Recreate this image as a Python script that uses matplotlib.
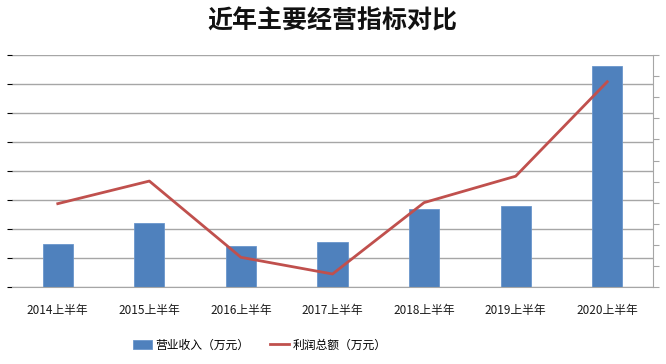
import matplotlib.pyplot as plt
import numpy as np

plt.rcParams['font.family'] = ['Noto Sans CJK SC', 'DejaVu Sans']

# 数据（从图中估读，单位：万元）
periods = ['2014上半年', '2015上半年', '2016上半年', '2017上半年',
           '2018上半年', '2019上半年', '2020上半年']
revenue = [7400, 11100, 7050, 7850, 13450, 13950, 38100]   # 营业收入
profit = [1980, 2515, 710, 315, 2005, 2630, 4865]          # 利润总额

bar_color = '#4F81BD'
line_color = '#C0504D'
grid_color = '#A6A6A6'

fig = plt.figure(figsize=(6.66, 3.64), dpi=100)
ax = fig.add_axes([0.018, 0.2107, 0.9625, 0.6383])

x = np.arange(len(periods))
bars = ax.bar(x, revenue, width=0.33, color=bar_color, edgecolor='#6A96CC',
              linewidth=0.6, zorder=2, label='营业收入（万元）')
ax.set_xlim(-0.5, len(periods) - 0.5)
ax.set_ylim(0, 40000)
ax.set_yticks(np.arange(0, 40001, 5000))
ax.yaxis.grid(True, color=grid_color, linewidth=1.0, zorder=0)
ax.tick_params(axis='y', left=False, labelleft=False)
ax.tick_params(axis='x', length=0, pad=12, labelsize=8.5, labelcolor='#1a1a1a')
ax.set_xticks(x)
ax.set_xticklabels(periods)
for s in ['left', 'top', 'right']:
    ax.spines[s].set_visible(False)
ax.spines['bottom'].set_color(grid_color)

ax2 = ax.twinx()
line, = ax2.plot(x, profit, color=line_color, linewidth=2.0, zorder=3,
                 label='利润总额（万元）')
ax2.set_ylim(0, 5500)
ax2.set_yticks(np.arange(0, 5501, 500))
ax2.tick_params(axis='y', direction='out', length=4, color=grid_color,
                labelright=False)
for s in ['left', 'top', 'bottom']:
    ax2.spines[s].set_visible(False)
ax2.spines['right'].set_color(grid_color)

fig.text(0.499, 0.942, '近年主要经营指标对比', ha='center', va='center',
         fontsize=18, fontweight='bold', color='#111111')

fig.legend([bars, line], ['营业收入（万元）', '利润总额（万元）'],
           loc='center', bbox_to_anchor=(0.39, 0.052), ncol=2, frameon=False,
           fontsize=8.5, handlelength=1.6, handletextpad=0.25,
           columnspacing=1.8)

fig.savefig('out.png', dpi=100)
